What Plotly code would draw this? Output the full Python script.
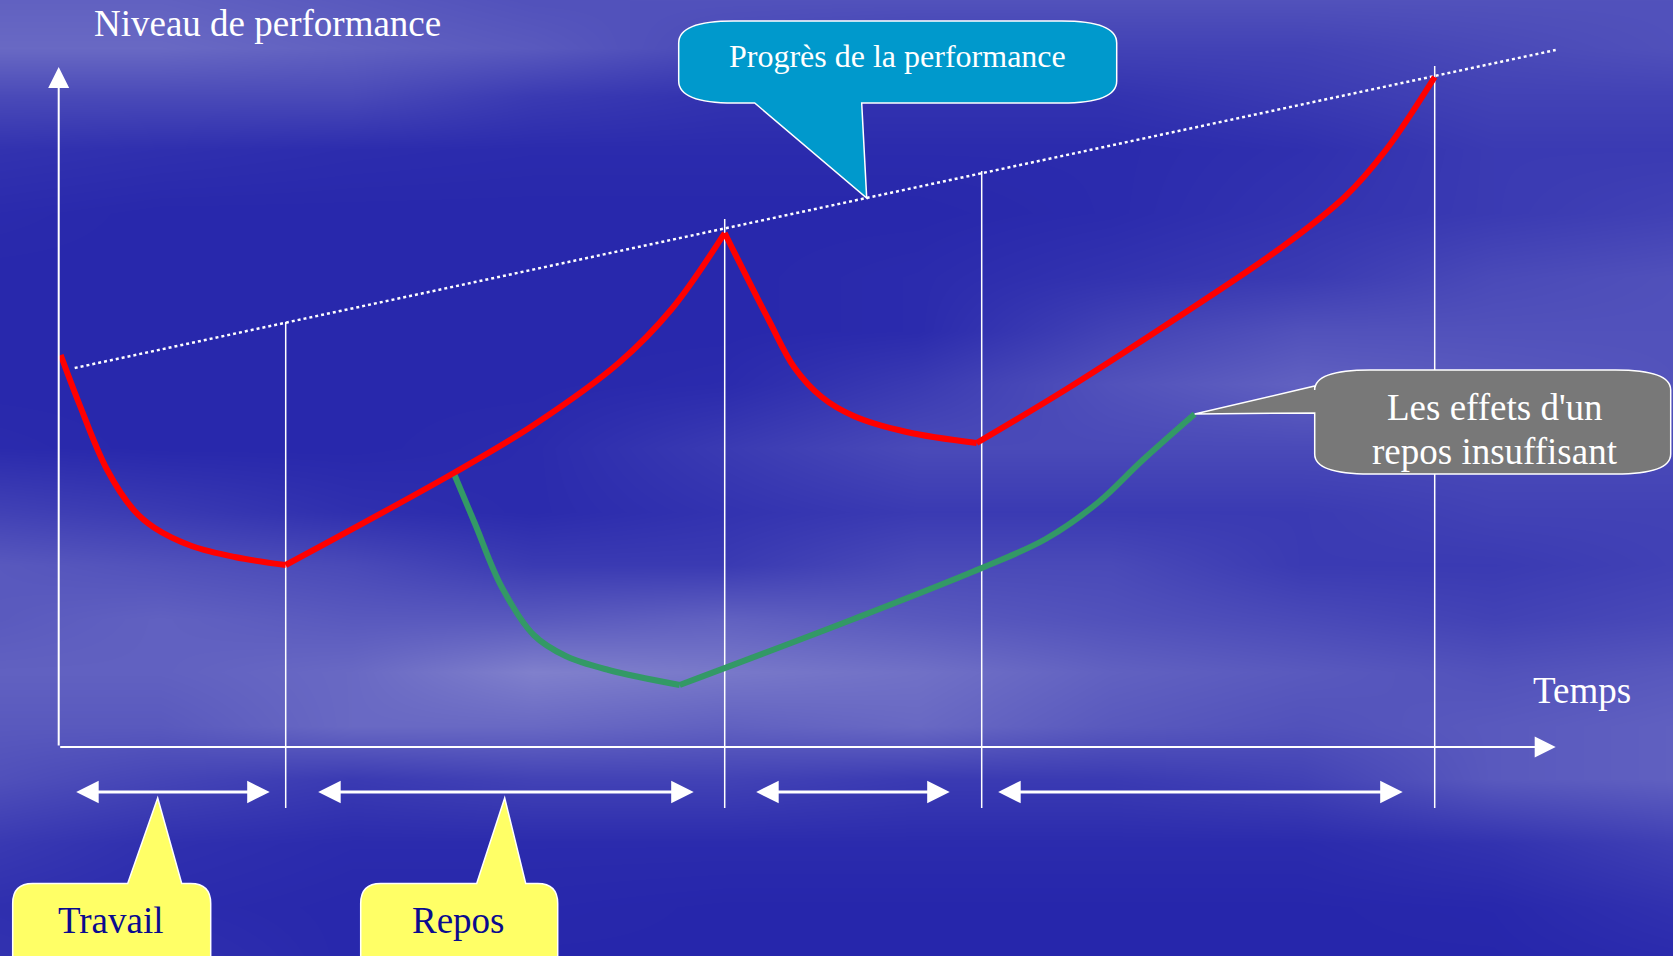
import plotly.graph_objects as go

# ---- performance curves: time (x) vs performance level (y) ----
# red: normal work / rest cycles (each phase drawn as its own smooth segment)
red_work1_t = [0.02, 0.21, 0.48, 0.75, 0.96, 1.33, 1.76, 2.27]
red_work1_y = [3.92, 3.42, 2.78, 2.37, 2.19, 2.01, 1.90, 1.82]
red_rest1_t = [2.27, 3.95, 4.75, 5.60, 6.13, 6.66]
red_rest1_y = [1.82, 2.74, 3.22, 3.84, 4.38, 5.14]
red_work2_t = [6.66, 7.10, 7.36, 7.63, 7.95, 8.48, 9.18]
red_work2_y = [5.14, 4.27, 3.79, 3.50, 3.31, 3.15, 3.04]
red_rest2_t = [9.18, 10.08, 11.15, 12.22, 12.86, 13.28, 13.76]
red_rest2_y = [3.04, 3.58, 4.27, 4.99, 5.50, 5.98, 6.70]

# green: work resumed too early
green_work_t = [3.95, 4.16, 4.43, 4.75, 5.07, 5.50, 6.21]
green_work_y = [2.74, 2.24, 1.60, 1.12, 0.91, 0.77, 0.62]
green_rest_t = [6.21, 7.95, 9.23, 9.87, 10.40, 10.83, 11.36]
green_rest_y = [0.62, 1.28, 1.79, 2.08, 2.45, 2.86, 3.33]

# progress trend line
trend_t = [0.16, 14.97]
trend_y = [3.79, 6.97]

# phase boundaries
phase_t = [2.27, 6.66, 9.23, 13.76]
phase_top = [4.25, 5.28, 5.76, 6.81]
phase_bottom = -0.61

# phase duration arrows (start, end)
span_start = [0.16, 2.58, 6.96, 9.38]
span_end = [2.11, 6.35, 8.91, 13.44]
span_level = -0.45

# axes extents
x_axis_end = 14.97
y_axis_end = 6.80

# sky backdrop: brightness grid (rows top to bottom), in screen pixels
sky_x_px = [-20, 150, 330, 500, 680, 860, 1040, 1220, 1400, 1600]
sky_y_px = [0, 45, 90, 140, 200, 260, 310, 360, 420, 480, 530, 580, 630, 680, 730, 790, 850, 900]
sky_level = [
    [0.40, 0.40, 0.35, 0.30, 0.30, 0.30, 0.30, 0.30, 0.30, 0.30],
    [0.45, 0.45, 0.40, 0.35, 0.25, 0.20, 0.20, 0.20, 0.25, 0.30],
    [0.25, 0.25, 0.25, 0.15, 0.10, 0.10, 0.10, 0.15, 0.20, 0.20],
    [0.10, 0.08, 0.06, 0.05, 0.05, 0.05, 0.05, 0.08, 0.15, 0.15],
    [0.05, 0.03, 0.03, 0.03, 0.03, 0.03, 0.05, 0.10, 0.15, 0.20],
    [0.03, 0.03, 0.03, 0.03, 0.03, 0.05, 0.10, 0.15, 0.25, 0.30],
    [0.03, 0.03, 0.03, 0.03, 0.03, 0.05, 0.20, 0.30, 0.30, 0.30],
    [0.03, 0.03, 0.03, 0.03, 0.05, 0.15, 0.30, 0.40, 0.35, 0.30],
    [0.05, 0.03, 0.03, 0.05, 0.15, 0.25, 0.25, 0.25, 0.25, 0.25],
    [0.20, 0.15, 0.08, 0.05, 0.10, 0.15, 0.15, 0.15, 0.20, 0.20],
    [0.35, 0.30, 0.25, 0.15, 0.15, 0.25, 0.25, 0.15, 0.15, 0.20],
    [0.35, 0.40, 0.35, 0.35, 0.40, 0.35, 0.30, 0.25, 0.20, 0.25],
    [0.40, 0.40, 0.45, 0.60, 0.55, 0.50, 0.40, 0.35, 0.30, 0.35],
    [0.35, 0.35, 0.45, 0.45, 0.40, 0.45, 0.35, 0.30, 0.35, 0.40],
    [0.30, 0.22, 0.15, 0.20, 0.20, 0.15, 0.15, 0.20, 0.35, 0.40],
    [0.15, 0.08, 0.05, 0.05, 0.05, 0.05, 0.05, 0.05, 0.10, 0.20],
    [0.08, 0.05, 0.03, 0.03, 0.02, 0.02, 0.02, 0.02, 0.03, 0.10],
    [0.10, 0.08, 0.03, 0.02, 0.02, 0.02, 0.02, 0.02, 0.02, 0.05],
]

W, H = 1673, 956
SCALE = W / 1568.0          # sky grid pixels -> page pixels
X0_PX, Y0_PX, UNIT = 58.7, 747.0, 100.0   # origin and unit size in page pixels


def px_to_x(p):
    return (p * SCALE - X0_PX) / UNIT


def px_to_y(p):
    return (Y0_PX - p * SCALE) / UNIT


SERIF = "Liberation Serif, Times New Roman, serif"
WHITE = "#ffffff"

fig = go.Figure()

fig.add_trace(go.Heatmap(
    x=[px_to_x(p) for p in sky_x_px],
    y=[px_to_y(p) for p in sky_y_px],
    z=sky_level, zmin=0, zmax=1, zsmooth="best", showscale=False,
    colorscale=[[0, "#2323aa"], [0.6, "#8080cc"], [1, "#b0b0e4"]],
    hoverinfo="skip",
))


def line(x, y, color, width, dash=None, shape="linear"):
    fig.add_trace(go.Scatter(
        x=x, y=y, mode="lines", hoverinfo="skip", showlegend=False,
        line=dict(color=color, width=width, dash=dash, shape=shape),
    ))


# phase boundaries
for t, top in zip(phase_t, phase_top):
    line([t, t], [phase_bottom, top], WHITE, 1.5)

# trend
line(trend_t, trend_y, WHITE, 2.5, dash="3px,3px")

# curves
for tx, ty in [(green_work_t, green_work_y), (green_rest_t, green_rest_y)]:
    line(tx, ty, "#339966", 6, shape="spline")
for tx, ty in [(red_work1_t, red_work1_y), (red_rest1_t, red_rest1_y),
               (red_work2_t, red_work2_y), (red_rest2_t, red_rest2_y)]:
    line(tx, ty, "#ff0000", 6, shape="spline")

annotations = []


def arrow(x_from, y_from, x_to, y_to, width, size, both=False):
    annotations.append(dict(
        x=x_to, y=y_to, ax=x_from, ay=y_from, xref="x", yref="y",
        axref="x", ayref="y", text="", showarrow=True, arrowhead=2,
        arrowside="end+start" if both else "end", startarrowhead=2,
        arrowsize=size, startarrowsize=size, arrowwidth=width,
        arrowcolor=WHITE, standoff=0, startstandoff=0,
    ))


# axes
arrow(0, 0, 0, y_axis_end, 2, 2.1)
arrow(0, 0, x_axis_end, 0, 2, 2.1)

# phase durations
for a, b in zip(span_start, span_end):
    arrow(a, span_level, b, span_level, 3, 1.5, both=True)


def text(x, y, s, size, color=WHITE):
    annotations.append(dict(
        x=x, y=y, xref="x", yref="y", text=s, showarrow=False,
        font=dict(family=SERIF, size=size, color=color),
        xanchor="center", yanchor="middle",
    ))


def callout_bottom_tail(x0, x1, ytop, ybot, rx, ry, tl, tr, tip):
    tx, ty = tip
    return (f"M{x0 + rx},{ytop} L{x1 - rx},{ytop} Q{x1},{ytop} {x1},{ytop - ry} "
            f"L{x1},{ybot + ry} Q{x1},{ybot} {x1 - rx},{ybot} L{tr},{ybot} "
            f"L{tx},{ty} L{tl},{ybot} L{x0 + rx},{ybot} Q{x0},{ybot} {x0},{ybot + ry} "
            f"L{x0},{ytop - ry} Q{x0},{ytop} {x0 + rx},{ytop} Z")


def callout_top_tail(x0, x1, ytop, ybot, r, tl, tr, tip):
    tx, ty = tip
    return (f"M{x0 + r},{ytop} L{tl},{ytop} L{tx},{ty} L{tr},{ytop} "
            f"L{x1 - r},{ytop} Q{x1},{ytop} {x1},{ytop - r} "
            f"L{x1},{ybot} L{x0},{ybot} L{x0},{ytop - r} Q{x0},{ytop} {x0 + r},{ytop} Z")


def callout_left_tail(x0, x1, ytop, ybot, rx, ry, t_hi, t_lo, tip):
    tx, ty = tip
    return (f"M{x0 + rx},{ytop} L{x1 - rx},{ytop} Q{x1},{ytop} {x1},{ytop - ry} "
            f"L{x1},{ybot + ry} Q{x1},{ybot} {x1 - rx},{ybot} L{x0 + rx},{ybot} "
            f"Q{x0},{ybot} {x0},{ybot + ry} L{x0},{t_lo} L{tx},{ty} L{x0},{t_hi} "
            f"L{x0},{ytop - ry} Q{x0},{ytop} {x0 + rx},{ytop} Z")


shapes = [
    dict(type="path", xref="x", yref="y", layer="above",
         path=callout_bottom_tail(6.20, 10.58, 7.26, 6.44, 0.55, 0.22, 6.96, 8.03, (8.08, 5.49)),
         fillcolor="#0099cc", line=dict(color=WHITE, width=1.5)),
    dict(type="path", xref="x", yref="y", layer="above",
         path=callout_left_tail(12.56, 16.12, 3.77, 2.73, 0.55, 0.2, 3.61, 3.34, (11.36, 3.33)),
         fillcolor="#787878", line=dict(color=WHITE, width=1.5)),
    dict(type="path", xref="x", yref="y", layer="above",
         path=callout_top_tail(-0.46, 1.52, -1.365, -2.3, 0.2, 0.69, 1.23, (0.99, -0.51)),
         fillcolor="#ffff66", line=dict(color=WHITE, width=1.5)),
    dict(type="path", xref="x", yref="y", layer="above",
         path=callout_top_tail(3.02, 4.99, -1.365, -2.3, 0.2, 4.18, 4.67, (4.46, -0.51)),
         fillcolor="#ffff66", line=dict(color=WHITE, width=1.5)),
]

text(2.09, 7.235, "Niveau de performance", 37)
text(15.23, 0.57, "Temps", 37)
text(8.39, 6.915, "Progrès de la performance", 32)
text(14.36, 3.394, "Les effets d'un", 37)
text(14.36, 2.957, "repos insuffisant", 37)
text(0.52, -1.73, "Travail", 37, "#0b0b8f")
text(4.00, -1.73, "Repos", 37, "#0b0b8f")

fig.update_layout(
    width=W, height=H, margin=dict(l=0, r=0, t=0, b=0),
    paper_bgcolor="#2a2aad", plot_bgcolor="#2a2aad",
    xaxis=dict(range=[-X0_PX / UNIT, (W - X0_PX) / UNIT], visible=False, fixedrange=True),
    yaxis=dict(range=[(Y0_PX - H) / UNIT, Y0_PX / UNIT], visible=False, fixedrange=True),
    shapes=shapes, annotations=annotations, showlegend=False,
)

fig.write_html("out.html", config=dict(displayModeBar=False))
